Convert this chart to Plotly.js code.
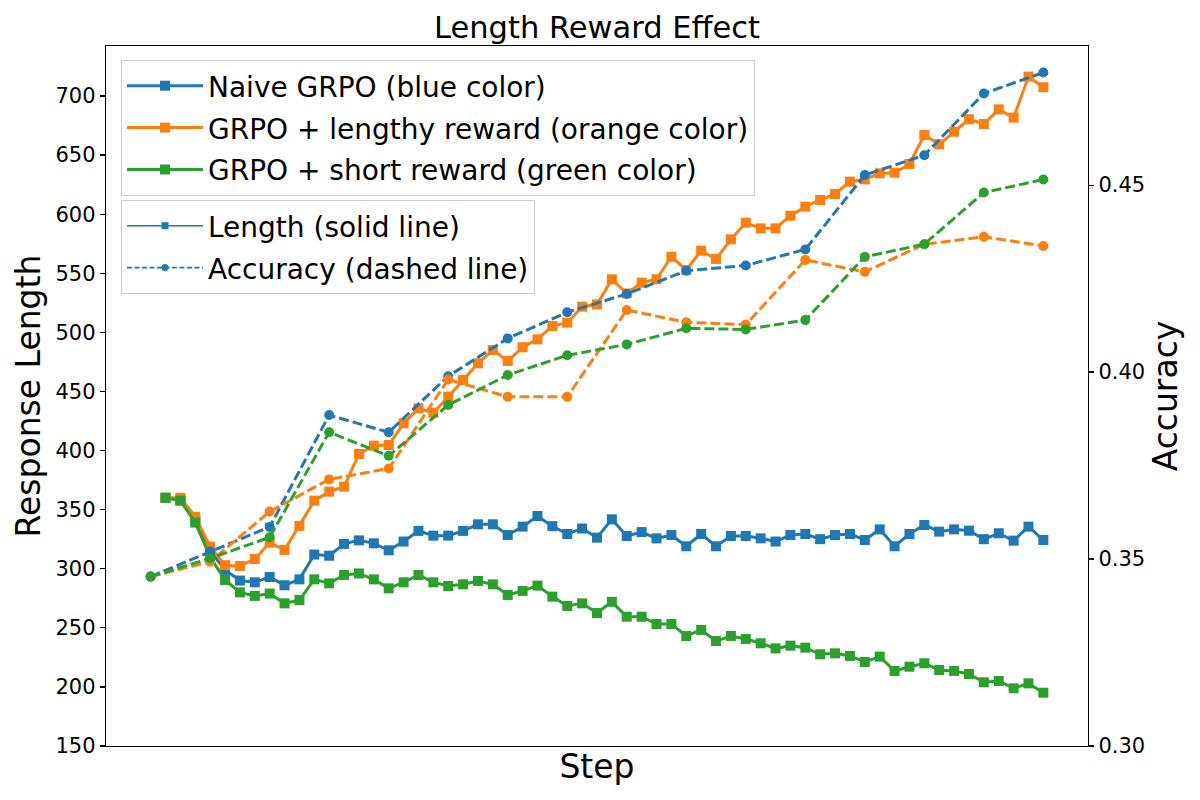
<!DOCTYPE html>
<html>
<head>
<meta charset="utf-8">
<script src="https://cdn.plot.ly/plotly-3.0.1.min.js"></script>
<style>html,body{margin:0;padding:0;background:#fff;}#chart{width:1200px;height:800px;}</style>
</head>
<body>
<div id="chart"></div>
<script>
// Steps (x positions, unlabeled in the reference)
const lengthSteps = [1,2,3,4,5,6,7,8,9,10,11,12,13,14,15,16,17,18,19,20,21,22,23,24,25,26,27,28,29,30,31,32,33,34,35,36,37,38,39,40,41,42,43,44,45,46,47,48,49,50,51,52,53,54,55,56,57,58,59,60];
const accuracySteps = [0,4,8,12,16,20,24,28,32,36,40,44,48,52,56,60];

// Response length (left axis)
const naiveLength = [360,358,341,315,299,290,288.5,293,286,291,312,311,321,324,321.5,315.6,323,332,328,328,332,337.6,337.6,328.5,335.6,344.6,336,329.4,334,326.3,341.8,327.7,331,325.7,328.5,319,329.4,319,327.7,327.7,325.7,323,328.5,329.4,325,328.5,329.4,324.3,333.3,319,329.4,337,331.4,333.3,332.2,325,330,323.8,335.6,324.3];
const lengthyLength = [360,360,344,318.6,303,302.3,308.2,322,315.9,336.2,357.6,365.2,369.4,397.1,404.1,404.7,423,435.7,432,445.6,459.7,473.8,485.1,475.8,487.4,494.1,505.4,508.2,521.7,523.7,544.9,533,542,544.9,564,552.8,569.1,562.1,578.7,592.8,588,588,598.7,606.4,612,617.1,627.5,629.5,634.6,635.1,642.5,667,659.1,669.8,680.3,676.3,688.7,681.7,716.4,707.4];
const shortLength = [360,357.6,339,310,290.5,280,277,279,270.7,273.5,291,287.6,294.7,296,291,283.4,288.5,294.7,288.5,285.4,286.8,289.6,286.8,277.8,281.2,285.7,276.4,268.5,270.7,262.5,272,259.4,259.4,253.2,253.2,243.1,248.2,238.8,243.1,240.5,236.9,232.6,234.9,233.2,227.6,228.4,226.2,221.1,225.6,213.5,217.1,220,214.3,213.5,210.9,203.9,205,198.8,203,195.1];

// Accuracy (right axis)
const naiveAcc = [0.3453,0.3520,0.3586,0.3885,0.3839,0.3989,0.4090,0.4160,0.4209,0.4271,0.4285,0.4328,0.4527,0.4580,0.4745,0.4801];
const lengthyAcc = [0.3453,0.3493,0.3627,0.3713,0.3742,0.3980,0.3934,0.3934,0.4166,0.4133,0.4127,0.4300,0.4268,0.4342,0.4362,0.4337];
const shortAcc = [0.3453,0.3502,0.3558,0.3839,0.3776,0.3912,0.3992,0.4045,0.4074,0.4117,0.4114,0.4139,0.4308,0.4342,0.4480,0.4515];

const seriesNames = ['Naive GRPO (blue color)', 'GRPO + lengthy reward (orange color)', 'GRPO + short reward (green color)'];
const styleNames = ['Length (solid line)', 'Accuracy (dashed line)'];
const lengthTicks = [150,200,250,300,350,400,450,500,550,600,650,700];
const accTicks = [0.30,0.35,0.40,0.45];

const colors = ['#1f77b4', '#ff7f0e', '#2ca02c'];
const FONT = 'DejaVu Sans, Verdana, sans-serif';
const lengths = [naiveLength, lengthyLength, shortLength];
const accs = [naiveAcc, lengthyAcc, shortAcc];

const traces = [];
for (let i = 0; i < 3; i++) {
  traces.push({
    x: lengthSteps, y: lengths[i], type: 'scatter', mode: 'lines+markers',
    name: seriesNames[i], legend: 'legend', legendgroup: 'g' + i,
    line: {color: colors[i], width: 3},
    marker: {symbol: 'square', size: 10, color: colors[i]},
    yaxis: 'y', hoverinfo: 'skip'
  });
}
for (let i = 0; i < 3; i++) {
  traces.push({
    x: accuracySteps, y: accs[i], type: 'scatter', mode: 'lines+markers',
    showlegend: false,
    line: {color: colors[i], width: 3, dash: '10px,4px'},
    marker: {symbol: 'circle', size: 10, color: colors[i]},
    yaxis: 'y2', hoverinfo: 'skip'
  });
}
// style legend entries (legend-only keys)
traces.push({
  x: [null], y: [null], type: 'scatter', mode: 'lines+markers',
  name: styleNames[0], legend: 'legend2', legendgroup: 's0',
  line: {color: colors[0], width: 1.6},
  marker: {symbol: 'square', size: 7, color: colors[0]}
});
traces.push({
  x: [null], y: [null], type: 'scatter', mode: 'lines+markers',
  name: styleNames[1], legend: 'legend2', legendgroup: 's1',
  line: {color: colors[0], width: 1.6, dash: '5px,2.5px'},
  marker: {symbol: 'circle', size: 7, color: colors[0]}
});

const legendCommon = {
  font: {family: FONT, size: 28, color: '#000'},
  bgcolor: 'rgba(255,255,255,0.8)', bordercolor: '#cccccc', borderwidth: 1,
  xanchor: 'left', yanchor: 'top', itemwidth: 76, tracegroupgap: 2.5, traceorder: 'grouped',
  itemclick: false, itemdoubleclick: false
};

const layout = {
  width: 1200, height: 800,
  margin: {l: 106, r: 112, t: 46, b: 54},
  paper_bgcolor: '#fff', plot_bgcolor: '#fff',
  font: {family: FONT, color: '#000'},
  title: {text: 'Length Reward Effect', font: {family: FONT, size: 30.5, color: '#000'},
          x: 597/1200, xanchor: 'center', xref: 'container', y: 1 - 27/800, yanchor: 'middle', yref: 'container'},
  xaxis: {range: [-3, 63], showticklabels: false, ticks: '', showgrid: false, zeroline: false,
          showline: true, mirror: true, linecolor: '#000', linewidth: 1.2,
          title: {text: 'Step', font: {family: FONT, size: 33, color: '#000'}, standoff: 8}},
  yaxis: {range: [150, 742.3], tickvals: lengthTicks, ticks: 'outside', ticklen: 5, tickwidth: 1.2,
          tickcolor: '#000', showgrid: false, zeroline: false, showline: true, linecolor: '#000', linewidth: 1.2,
          tickfont: {family: FONT, size: 21, color: '#000'},
          title: {text: 'Response Length', font: {family: FONT, size: 33, color: '#000'}, standoff: 5}},
  yaxis2: {range: [0.30, 0.4872], tickvals: accTicks, tickformat: '.2f', overlaying: 'y', side: 'right',
           ticks: 'outside', ticklen: 5, tickwidth: 1.2, tickcolor: '#000', showgrid: false, zeroline: false,
           showline: true, linecolor: '#000', linewidth: 1.2,
           tickfont: {family: FONT, size: 21, color: '#000'},
           title: {text: 'Accuracy', font: {family: FONT, size: 33, color: '#000'}, standoff: 9}},
  legend: Object.assign({}, legendCommon, {x: 15/982, y: (746-60)/700}),
  legend2: Object.assign({}, legendCommon, {x: 15/982, y: (746-200)/700}),
  showlegend: true
};

Plotly.newPlot('chart', traces, layout, {displayModeBar: false, staticPlot: true});
</script>
</body>
</html>
